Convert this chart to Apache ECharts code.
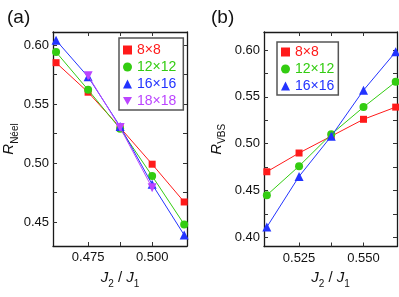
<!DOCTYPE html>
<html><head><meta charset="utf-8">
<script src="https://cdn.jsdelivr.net/npm/echarts@6/dist/echarts.min.js"></script>
<style>html,body{margin:0;padding:0;background:#fff}#c{width:399px;height:297px}</style>
</head><body><div id="c"></div>
<script>
// ---- data ----
const xNeel = [0.4625, 0.475, 0.4875, 0.5, 0.5125];
const neel8 = [0.585, 0.560, 0.530, 0.499, 0.467];
const neel12 = [0.594, 0.562, 0.529, 0.489, 0.448];
const neel16 = [0.604, 0.573, 0.531, 0.482, 0.439];
const neel18 = [null, 0.574, 0.530, 0.479, null];

const xVbs = [0.5125, 0.525, 0.5375, 0.55, 0.5625];
const vbs8 = [0.470, 0.490, 0.508, 0.526, 0.539];
const vbs12 = [0.445, 0.476, 0.510, 0.539, 0.566];
const vbs16 = [0.411, 0.465, 0.508, 0.557, 0.598];

const sizeNames = ['8×8', '12×12', '16×16', '18×18'];
const xTicksA = [0.475, 0.4875, 0.5];
const xLabelsA = [0.475, 0.5];
const yTicksA = [0.45, 0.475, 0.5, 0.525, 0.55, 0.575, 0.6];
const yLabelsA = [0.45, 0.5, 0.55, 0.6];
const xTicksB = [0.525, 0.5375, 0.55];
const xLabelsB = [0.525, 0.55];
const yTicksB = [0.4, 0.425, 0.45, 0.475, 0.5, 0.525, 0.55, 0.575, 0.6];
const yLabelsB = [0.4, 0.45, 0.5, 0.55, 0.6];

// ---- styling ----
const FONT = 'Liberation Sans, Arial, sans-serif';
const colors = ['#ff1a1a', '#33cc11', '#2233ff', '#bb44ff'];
const symbols = ['rect', 'circle', 'triangle', 'triangle'];
const symSizes = [7, 8, 9, 9];
const symRot = [0, 0, 0, 180];
const downTri = 'path://M0,0 L10,0 L5,9 Z';
const legendIcons = ['rect', 'circle', 'triangle', downTri];

const pair = (xs, ys) => xs.map((x, i) => [x, ys[i]]);
const lineStyleAxis = { color: '#1a1a1a', width: 1.3 };

function xAxis(gi, min, max, ticks, labels, pos, show) {
  return {
    type: 'value', gridIndex: gi, min: min, max: max, position: pos,
    axisLine: { show: true, onZero: false, lineStyle: lineStyleAxis },
    axisTick: { show: true, inside: true, length: 4, customValues: ticks, lineStyle: { color: '#333', width: 1 } },
    axisLabel: { show: show, customValues: labels, formatter: v => v.toFixed(3), fontFamily: FONT, fontSize: 13, color: '#111', margin: 5 },
    splitLine: { show: false },
    name: show ? '{i|J}{s|2}{n| / }{i|J}{s|1}' : '',
    nameLocation: 'middle', nameGap: 24,
    nameTextStyle: {
      rich: {
        i: { fontFamily: FONT, fontStyle: 'italic', fontSize: 15, color: '#111', verticalAlign: 'top', lineHeight: 16 },
        n: { fontFamily: FONT, fontSize: 15, color: '#111', verticalAlign: 'top', lineHeight: 16 },
        s: { fontFamily: FONT, fontSize: 10, color: '#111', verticalAlign: 'top', lineHeight: 10, padding: [9, 0, 0, 0] }
      }
    }
  };
}
function yAxis(gi, min, max, ticks, labels, pos, show, nameSub, gap) {
  return {
    type: 'value', gridIndex: gi, min: min, max: max, position: pos,
    axisLine: { show: true, onZero: false, lineStyle: lineStyleAxis },
    axisTick: { show: true, inside: true, length: 4, customValues: ticks, lineStyle: { color: '#333', width: 1 } },
    axisLabel: { show: show, customValues: labels, formatter: v => v.toFixed(2), fontFamily: FONT, fontSize: 13, color: '#111', margin: 4 },
    splitLine: { show: false },
    name: show ? '{i|R}{s|' + nameSub + '}' : '',
    nameLocation: 'middle', nameGap: gap, nameRotate: 90,
    nameTextStyle: {
      rich: {
        i: { fontFamily: FONT, fontStyle: 'italic', fontSize: 15, color: '#111', verticalAlign: 'top', lineHeight: 16 },
        s: { fontFamily: FONT, fontSize: 10, color: '#111', verticalAlign: 'top', lineHeight: 10, padding: [8, 0, 0, 0] }
      }
    }
  };
}

const seriesA = [neel8, neel12, neel16, neel18].map((ys, k) => ({
  type: 'line', name: sizeNames[k], xAxisIndex: 0, yAxisIndex: 0,
  data: pair(xNeel, ys).filter(p => p[1] !== null),
  symbol: symbols[k], symbolSize: symSizes[k], symbolRotate: symRot[k],
  itemStyle: { color: colors[k] }, lineStyle: { color: colors[k], width: 1 },
  animation: false, z: 3 + k
}));
const seriesB = [vbs8, vbs12, vbs16].map((ys, k) => ({
  type: 'line', name: sizeNames[k], xAxisIndex: 2, yAxisIndex: 2,
  data: pair(xVbs, ys),
  symbol: symbols[k], symbolSize: symSizes[k], symbolRotate: symRot[k],
  itemStyle: { color: colors[k] }, lineStyle: { color: colors[k], width: 1 },
  animation: false, z: 3 + k
}));

function legend(left, top, n, padding) {
  return {
    left: left, top: top, orient: 'vertical',
    data: sizeNames.slice(0, n).map((nm, k) => ({ name: nm, icon: legendIcons[k], itemStyle: { color: colors[k] }, textStyle: { color: colors[k] } })),
    itemWidth: 9, itemHeight: 9, itemGap: 1,
    padding: padding,
    borderColor: '#555', borderWidth: 1.5, backgroundColor: '#fff',
    textStyle: { fontFamily: FONT, fontSize: 14, lineHeight: 16 },
    selectedMode: false
  };
}

const chart = echarts.init(document.getElementById('c'), null, { renderer: 'canvas' });
chart.setOption({
  animation: false,
  title: [
    { text: '(a)', left: 2, top: 3, textStyle: { fontFamily: FONT, fontSize: 19, fontWeight: 'normal', color: '#111' } },
    { text: '(b)', left: 206, top: 3, textStyle: { fontFamily: FONT, fontSize: 19, fontWeight: 'normal', color: '#111' } }
  ],
  grid: [
    { left: 53, top: 32, width: 134, height: 214 },
    { left: 264, top: 32, width: 133, height: 214.5 }
  ],
  xAxis: [
    xAxis(0, 0.4613, 0.5136, xTicksA, xLabelsA, 'bottom', true),
    xAxis(0, 0.4613, 0.5136, xTicksA, xLabelsA, 'top', false),
    xAxis(1, 0.5114, 0.5630, xTicksB, xLabelsB, 'bottom', true),
    xAxis(1, 0.5114, 0.5630, xTicksB, xLabelsB, 'top', false)
  ],
  yAxis: [
    yAxis(0, 0.4297, 0.6110, yTicksA, yLabelsA, 'left', true, 'Néel', 35),
    yAxis(0, 0.4297, 0.6110, yTicksA, yLabelsA, 'right', false, '', 0),
    yAxis(1, 0.3902, 0.6192, yTicksB, yLabelsB, 'left', true, 'VBS', 39),
    yAxis(1, 0.3902, 0.6192, yTicksB, yLabelsB, 'right', false, '', 0)
  ],
  legend: [legend(119, 38, 4, [4, 7, 1, 4]), legend(277, 42, 3, [2, 4, 1, 4])],
  series: seriesA.concat(seriesB)
});
</script></body></html>
